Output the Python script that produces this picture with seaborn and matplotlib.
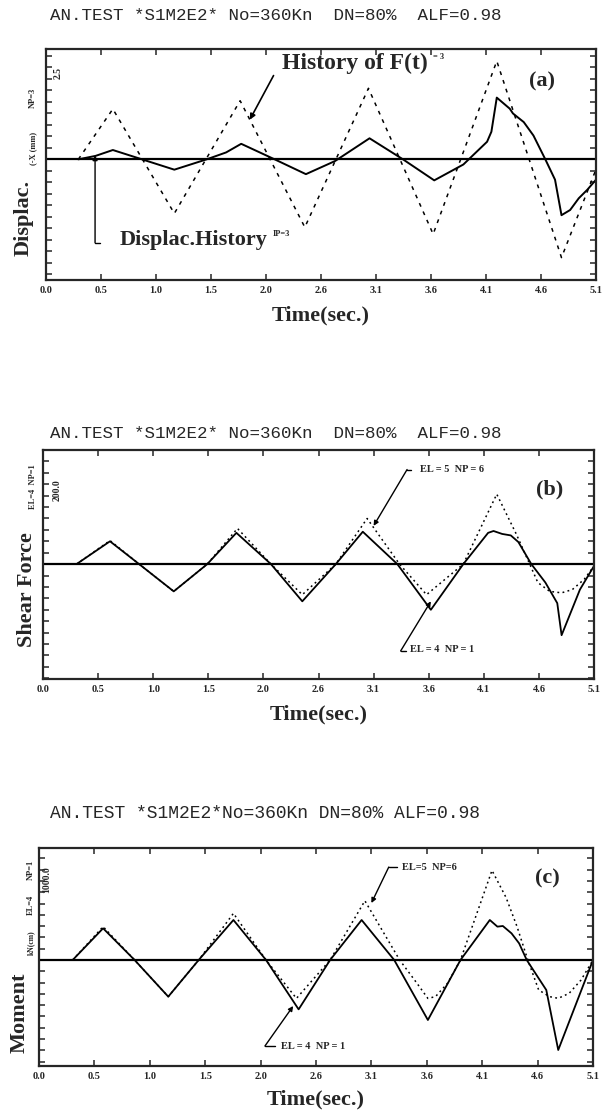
import matplotlib

matplotlib.use("Agg")
import matplotlib.pyplot as plt
import seaborn as sns
from matplotlib.ticker import MultipleLocator, NullFormatter

W, H = 608, 1116

TITLE_A = "AN.TEST *S1M2E2* No=360Kn  DN=80%  ALF=0.98"
TITLE_B = "AN.TEST *S1M2E2* No=360Kn  DN=80%  ALF=0.98"
TITLE_C = "AN.TEST *S1M2E2*No=360Kn DN=80% ALF=0.98"

TIME_TICKS = [0.0, 0.51, 1.02, 1.53, 2.04, 2.55, 3.06, 3.57, 4.08, 4.59, 5.1]
TIME_LABELS = ["0.0", "0.5", "1.0", "1.5", "2.0", "2.6", "3.1", "3.6", "4.1", "4.6", "5.1"]

# (a) displacement: imposed history F(t) (dashed) and response (solid)
A_FT_T = [0.30, 0.62, 1.19, 1.80, 2.40, 2.99, 3.59, 4.18, 4.78, 5.10]
A_FT_V = [0.0, 1.46, -1.57, 1.70, -1.97, 2.06, -2.17, 2.85, -2.85, -0.29]
A_DISP_T = [0.30, 0.46, 0.62, 0.89, 1.19, 1.49, 1.67, 1.81, 2.12, 2.41, 2.68, 3.00,
            3.31, 3.60, 3.87, 4.09, 4.13, 4.18, 4.30, 4.33, 4.43, 4.52, 4.63, 4.72,
            4.78, 4.86, 4.94, 5.02, 5.10]
A_DISP_V = [0.0, 0.10, 0.27, 0.0, -0.30, 0.0, 0.20, 0.45, 0.0, -0.43, -0.05, 0.61,
            0.0, -0.61, -0.15, 0.51, 0.80, 1.79, 1.47, 1.33, 1.08, 0.69, 0.0, -0.59,
            -1.62, -1.47, -1.13, -0.88, -0.59]

# (b) shear force: EL=4 NP=1 (solid), EL=5 NP=6 (dotted)
B_EL4_T = [0.31, 0.62, 0.89, 1.21, 1.52, 1.79, 2.11, 2.40, 2.71, 2.96, 3.28, 3.59,
           3.89, 4.12, 4.17, 4.25, 4.33, 4.40, 4.52, 4.65, 4.76, 4.80, 4.87, 4.97, 5.10]
B_EL4_V = [0, 62, 0, -74, 0, 85, 0, -101, 0, 88, 0, -124,
           0, 85, 90, 82, 78, 60, 0, -50, -106, -193, -142, -69, -5]
B_EL5_T = [0.31, 0.62, 0.89, 1.21, 1.52, 1.80, 2.11, 2.40, 2.71, 3.00, 3.30, 3.55,
           3.89, 4.20, 4.38, 4.49, 4.58, 4.69, 4.80, 4.90, 5.01, 5.10]
B_EL5_V = [0, 64, 0, -74, 0, 97, 0, -83, 0, 124, 0, -83,
           0, 190, 82, 10, -50, -74, -78, -69, -41, -5]

# (c) moment: EL=4 NP=1 (solid), EL=5 NP=6 (dotted)
C_EL4_T = [0.31, 0.59, 0.88, 1.19, 1.47, 1.79, 2.09, 2.39, 2.68, 2.97, 3.27, 3.58,
           3.88, 4.15, 4.22, 4.27, 4.35, 4.42, 4.49, 4.67, 4.78, 5.10]
C_EL4_V = [0, 396, 0, -458, 0, 500, 0, -617, 0, 500, 0, -750,
           0, 500, 417, 425, 333, 208, 0, -375, -1125, 0]
C_EL5_T = [0.31, 0.59, 0.88, 1.19, 1.47, 1.79, 2.09, 2.37, 2.68, 3.00, 3.32, 3.48,
           3.58, 3.65, 3.76, 3.88, 4.17, 4.30, 4.40, 4.50, 4.60, 4.70, 4.78, 4.88,
           4.99, 5.10]
C_EL5_V = [0, 417, 0, -458, 0, 583, 0, -480, 0, 740, 0, -292,
           -480, -458, -292, 0, 1120, 780, 420, 0, -375, -458, -479, -417,
           -250, 0]

sns.set_style("ticks")
plt.rcParams["font.family"] = ["Liberation Serif", "DejaVu Serif"]
BOLD = dict(fontweight="bold", family=["Liberation Serif", "DejaVu Serif"])
MONO = dict(family=["Liberation Mono", "DejaVu Sans Mono"])


def fxy(x, y):
    return x / W, 1 - y / H


def setup_axes(fig, rect_px, ylim, ystep):
    left, top, right, bottom = rect_px
    ax = fig.add_axes([left / W, 1 - bottom / H, (right - left) / W, (bottom - top) / H])
    ax.set_xlim(0, 5.1)
    ax.set_ylim(*ylim)
    ax.axhline(0, color="black", lw=1.6, zorder=1)
    ax.set_xticks(TIME_TICKS, labels=TIME_LABELS)
    for lab in ax.get_xticklabels():
        lab.set_fontsize(7.5)
        lab.set_fontweight("bold")
    ax.yaxis.set_major_locator(MultipleLocator(ystep))
    ax.yaxis.set_major_formatter(NullFormatter())
    ax.tick_params(direction="in", top=True, right=True, length=4, width=1.1, pad=4)
    for sp in ax.spines.values():
        sp.set_linewidth(1.6)
    ax.set_xlabel("Time(sec.)", fontsize=16, **BOLD)
    ax.xaxis.set_label_coords(0.5, -0.11)
    return ax


def leader(ax, hook, start, tip):
    ax.plot(hook[0], hook[1], color="black", lw=1.0)
    ax.annotate("", xy=tip, xytext=start,
                arrowprops=dict(arrowstyle="-|>", color="black", lw=1.0,
                                mutation_scale=7, shrinkA=0, shrinkB=0))


def superscript(ax, anchor, label):
    ax.annotate(label, xy=(1, 0.8), xycoords=anchor, xytext=(4, 0),
                textcoords="offset points", fontsize=6, va="center", ha="left", **BOLD)


fig = plt.figure(figsize=(W / 100, H / 100), dpi=100)

# ---------------- (a)
ax = setup_axes(fig, (46, 49, 596, 280), (-3.5, 3.2), 1 / 3)
sns.lineplot(x=A_FT_T, y=A_FT_V, ax=ax, color="black", lw=1.1, linestyle=(0, (2.5, 3.5)))
sns.lineplot(x=A_DISP_T, y=A_DISP_V, ax=ax, color="black", lw=1.4)
t = ax.text(2.19, 2.77, "History of F(t)", fontsize=17, va="center", ha="left", **BOLD)
superscript(ax, t, "= 3")
ax.annotate("", xy=(1.89, 1.15), xytext=(2.11, 2.43),
            arrowprops=dict(arrowstyle="-|>", color="black", lw=1.2,
                            mutation_scale=8, shrinkA=0, shrinkB=0))
ax.text(4.60, 2.27, "(a)", fontsize=16, ha="center", va="center", **BOLD)
t = ax.text(0.68, -2.35, "Displac.History", fontsize=16, va="center", ha="left", **BOLD)
superscript(ax, t, "IP=3")
leader(ax, ([0.50, 0.455], [-2.42, -2.42]), (0.455, -2.42), (0.455, 0.12))
fig.text(*fxy(24, 218), "Displac.", rotation=90, ha="center", va="center", fontsize=16, **BOLD)
fig.text(*fxy(33, 148), "(-X (mm)", rotation=90, ha="center", va="center", fontsize=6, **BOLD)
fig.text(*fxy(33, 98), "NP=3", rotation=90, ha="center", va="center", fontsize=6, **BOLD)
fig.text(*fxy(58, 73), "2.5", rotation=90, ha="center", va="center", fontsize=7, **BOLD)
fig.text(*fxy(50, 15), TITLE_A, ha="left", va="center", fontsize=12.6, **MONO)

# ---------------- (b)
ax = setup_axes(fig, (43, 450, 594, 679), (-312, 310), 31)
sns.lineplot(x=B_EL5_T, y=B_EL5_V, ax=ax, color="black", lw=1.1, linestyle=(0, (1.2, 2.2)))
sns.lineplot(x=B_EL4_T, y=B_EL4_V, ax=ax, color="black", lw=1.3)
ax.text(3.49, 257, "EL = 5  NP = 6", fontsize=7.5, va="center", ha="left", **BOLD)
leader(ax, ([3.41, 3.37], [257, 257]), (3.37, 257), (3.06, 104))
ax.text(4.69, 203, "(b)", fontsize=16, ha="center", va="center", **BOLD)
ax.text(3.40, -232, "EL = 4  NP = 1", fontsize=7.5, va="center", ha="left", **BOLD)
leader(ax, ([3.31, 3.36], [-236, -236]), (3.31, -236), (3.59, -101))
fig.text(*fxy(27, 590), "Shear Force", rotation=90, ha="center", va="center", fontsize=16, **BOLD)
fig.text(*fxy(33, 487), "EL=4  NP=1", rotation=90, ha="center", va="center", fontsize=6, **BOLD)
fig.text(*fxy(57, 490), "200.0", rotation=90, ha="center", va="center", fontsize=7, **BOLD)
fig.text(*fxy(50, 434), TITLE_B, ha="left", va="center", fontsize=12.6, **MONO)

# ---------------- (c)
ax = setup_axes(fig, (39, 848, 593, 1066), (-1325, 1400), 141)
sns.lineplot(x=C_EL5_T, y=C_EL5_V, ax=ax, color="black", lw=1.1, linestyle=(0, (1.2, 2.2)))
sns.lineplot(x=C_EL4_T, y=C_EL4_V, ax=ax, color="black", lw=1.3)
ax.text(3.34, 1162, "EL=5  NP=6", fontsize=7.5, va="center", ha="left", **BOLD)
leader(ax, ([3.22, 3.30], [1162, 1162]), (3.22, 1162), (3.06, 712))
ax.text(4.68, 1025, "(c)", fontsize=16, ha="center", va="center", **BOLD)
ax.text(2.23, -1080, "EL = 4  NP = 1", fontsize=7.5, va="center", ha="left", **BOLD)
leader(ax, ([2.08, 2.17], [-1075, -1075]), (2.08, -1075), (2.34, -575))
fig.text(*fxy(20, 1013), "Moment", rotation=90, ha="center", va="center", fontsize=16, **BOLD)
fig.text(*fxy(31, 943), "kN(cm)", rotation=90, ha="center", va="center", fontsize=5.5, **BOLD)
fig.text(*fxy(31, 905), "EL=4", rotation=90, ha="center", va="center", fontsize=6, **BOLD)
fig.text(*fxy(31, 870), "NP=1", rotation=90, ha="center", va="center", fontsize=6, **BOLD)
fig.text(*fxy(47, 880), "1000.0", rotation=90, ha="center", va="center", fontsize=7, **BOLD)
fig.text(*fxy(50, 813), TITLE_C, ha="left", va="center", fontsize=13, **MONO)

fig.savefig("out.png", dpi=100)
